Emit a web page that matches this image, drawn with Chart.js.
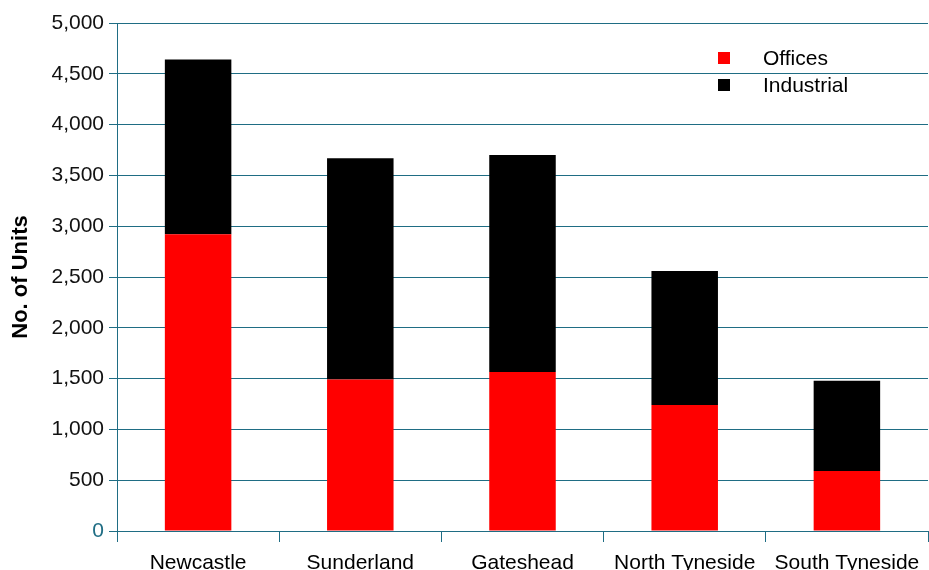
<!DOCTYPE html>
<html>
<head>
<meta charset="utf-8">
<script src="https://cdn.jsdelivr.net/npm/chart.js@4/dist/chart.umd.min.js"></script>
<style>
  html, body { margin: 0; padding: 0; background: #fff; }
  #wrap { width: 929px; height: 570px; }
</style>
</head>
<body>
<div id="wrap"><canvas id="units-chart" width="929" height="570"></canvas></div>
<script>
const areas = ['Newcastle', 'Sunderland', 'Gateshead', 'North Tyneside', 'South Tyneside'];
const offices = [2920, 1490, 1565, 1240, 590];
const industrial = [1720, 2180, 2135, 1320, 890];
const yTicks = [0, 500, 1000, 1500, 2000, 2500, 3000, 3500, 4000, 4500, 5000];

const axisColour = '#1f6d84';
const font = 'Liberation Sans, Arial, sans-serif';

// legend drawn as a small vertical key in the top right of the plot
const keyPlugin = {
    id: 'key',
    afterDraw(chart) {
        const ctx = chart.ctx;
        ctx.save();
        ctx.font = '21px ' + font;
        ctx.textBaseline = 'middle';
        chart.data.datasets.forEach((ds, i) => {
            const y = 58 + i * 27;
            ctx.fillStyle = ds.backgroundColor;
            ctx.fillRect(718, y - 6, 12, 12);
            ctx.fillStyle = '#000';
            ctx.fillText(ds.label, 763, y + 1);
        });
        ctx.restore();
    }
};

new Chart(document.getElementById('units-chart'), {
    type: 'bar',
    data: {
        labels: areas,
        datasets: [{
            label: 'Offices',
            data: offices,
            backgroundColor: '#ff0000',
            barPercentage: 0.41,
            categoryPercentage: 1
        }, {
            label: 'Industrial',
            data: industrial,
            backgroundColor: '#000000',
            barPercentage: 0.41,
            categoryPercentage: 1
        }]
    },
    options: {
        responsive: false,
        animation: false,
        layout: { padding: { top: 23, right: 1, left: 0, bottom: 0 } },
        plugins: {
            legend: { display: false },
            tooltip: { enabled: false }
        },
        scales: {
            x: {
                stacked: true,
                afterFit: scale => { scale.height = 39; },
                grid: {
                    offset: true,
                    drawOnChartArea: false,
                    color: axisColour,
                    tickLength: 11
                },
                border: { color: axisColour, width: 1 },
                ticks: {
                    color: '#000',
                    padding: 9,
                    maxRotation: 0,
                    font: { family: font, size: 21 }
                }
            },
            y: {
                stacked: true,
                min: 0,
                max: 5000,
                afterFit: scale => { scale.width = 117; },
                afterBuildTicks: scale => { scale.ticks = yTicks.map(v => ({ value: v })); },
                grid: {
                    color: axisColour,
                    lineWidth: 1,
                    tickLength: 8
                },
                border: { color: axisColour, width: 1 },
                ticks: {
                    padding: 5,
                    color: ctx => ctx.tick.value === 0 ? axisColour : '#111',
                    font: { family: font, size: 21 },
                    callback: v => v.toLocaleString('en-GB')
                },
                title: {
                    display: true,
                    text: 'No. of Units',
                    color: '#000',
                    padding: { top: 8, bottom: 6 },
                    font: { family: font, size: 22, weight: 'bold' }
                }
            }
        }
    },
    plugins: [keyPlugin]
});
</script>
</body>
</html>
